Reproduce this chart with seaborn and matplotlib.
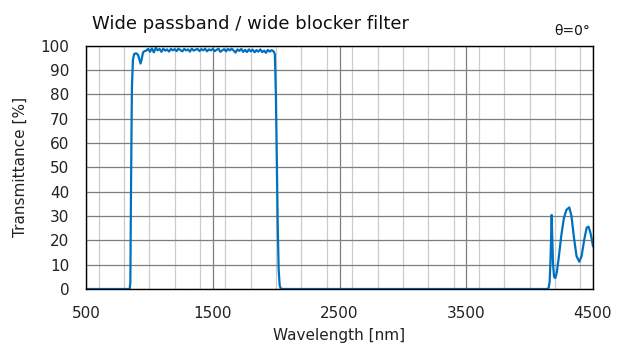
import numpy as np
import pandas as pd
import matplotlib
matplotlib.use("Agg")
import matplotlib.pyplot as plt
from matplotlib.ticker import MultipleLocator, FixedLocator
import seaborn as sns

# Wavelength [nm] and transmittance [%]
wavelength = [
    500, 845, 850, 855, 862, 870, 880, 895, 910, 920, 930, 940, 950, 960, 975,
    990, 1005, 1020, 1035, 1050, 1065, 1080, 1095, 1110, 1125, 1140, 1155, 1170,
    1185, 1200, 1215, 1230, 1245, 1260, 1275, 1290, 1305, 1320, 1335, 1350, 1365,
    1380, 1395, 1410, 1425, 1440, 1455, 1470, 1485, 1500, 1515, 1530, 1545, 1560,
    1575, 1590, 1605, 1620, 1635, 1650, 1665, 1680, 1695, 1710, 1725, 1740, 1755,
    1770, 1785, 1800, 1815, 1830, 1845, 1860, 1875, 1890, 1905, 1920, 1935, 1950,
    1965, 1980, 1990, 1998, 2005, 2012, 2020, 2028, 2035, 2050,
    4140, 4150, 4158, 4165, 4170, 4174, 4178, 4185, 4193, 4203, 4215, 4230, 4250,
    4270, 4290, 4313, 4330, 4350, 4370, 4392, 4410, 4430, 4450, 4465, 4480, 4492,
    4500,
]
transmittance = [
    0, 0, 3, 40, 82, 94, 96.5, 96.8, 96.2, 94.5, 92.6, 94.5, 97.2, 97.6, 97.9,
    98.6, 97.4, 98.8, 97.2, 99.0, 98.0, 98.6, 97.4, 98.7, 97.9, 98.4, 97.5, 98.6,
    98.0, 98.5, 97.7, 98.7, 98.1, 97.6, 98.6, 98.0, 98.4, 97.5, 98.7, 97.9, 98.3,
    98.6, 97.7, 98.5, 98.0, 98.7, 97.6, 98.4, 98.0, 98.6, 97.7, 98.2, 98.7, 97.4,
    98.0, 98.5, 97.6, 98.6, 98.0, 98.7, 97.9, 97.1, 98.4, 97.8, 98.6, 97.4, 98.2,
    97.3, 98.4, 97.6, 98.3, 97.2, 98.1, 97.5, 98.4, 97.3, 97.9, 97.0, 98.2, 97.5,
    98.1, 97.6, 96.5, 80, 55, 28, 8, 1.5, 0.3, 0,
    0, 0.5, 3, 12, 22, 30.4, 22, 10, 5, 4.5, 7, 13, 22,
    29, 32.5, 33.5, 30, 21, 13.5, 11.2, 13.5, 20, 25.2, 25.6, 23, 20,
    17.5,
]
x_tick_values = [500, 1500, 2500, 3500, 4500]
y_tick_values = [0, 10, 20, 30, 40, 50, 60, 70, 80, 90, 100]

df = pd.DataFrame({"Wavelength": wavelength, "Transmittance": transmittance})

sns.set_theme(style="white")
plt.rcParams["font.family"] = ["DejaVu Sans"]

fig = plt.figure(figsize=(6.24, 3.52), dpi=100)
ax = fig.add_axes([86 / 624, 1 - 289 / 352, (593 - 86) / 624, (289 - 45.5) / 352])

sns.lineplot(data=df, x="Wavelength", y="Transmittance", ax=ax,
             color="#0070C0", linewidth=1.6, sort=False, estimator=None)

ax.set_xlim(500, 4500)
ax.set_ylim(0, 100)
ax.xaxis.set_major_locator(FixedLocator(x_tick_values))
ax.xaxis.set_minor_locator(MultipleLocator(200))
ax.yaxis.set_major_locator(FixedLocator(y_tick_values))

ax.grid(which="major", axis="both", color="#7f7f7f", linewidth=0.9)
ax.grid(which="minor", axis="x", color="#cccccc", linewidth=0.9)
ax.set_axisbelow(True)

ax.tick_params(axis="both", which="both", length=0, labelsize=11, colors="#222222")
ax.tick_params(axis="x", pad=12)
ax.tick_params(axis="y", pad=12)
for s in ax.spines.values():
    s.set_color("black")
    s.set_linewidth(1.0)
    s.set_visible(True)

ax.set_xlabel("Wavelength [nm]", fontsize=11, color="#222222", labelpad=5)
ax.set_ylabel("Transmittance [%]", fontsize=11, color="#222222", labelpad=9)

fig.text(92 / 624, 1 - 24 / 352, "Wide passband / wide blocker filter",
         fontsize=13, ha="left", va="center", color="#111111")
fig.text(590 / 624, 1 - 31 / 352, "θ=0°", fontsize=10, ha="right",
         va="center", color="#111111")

fig.savefig("out.png", dpi=100)
